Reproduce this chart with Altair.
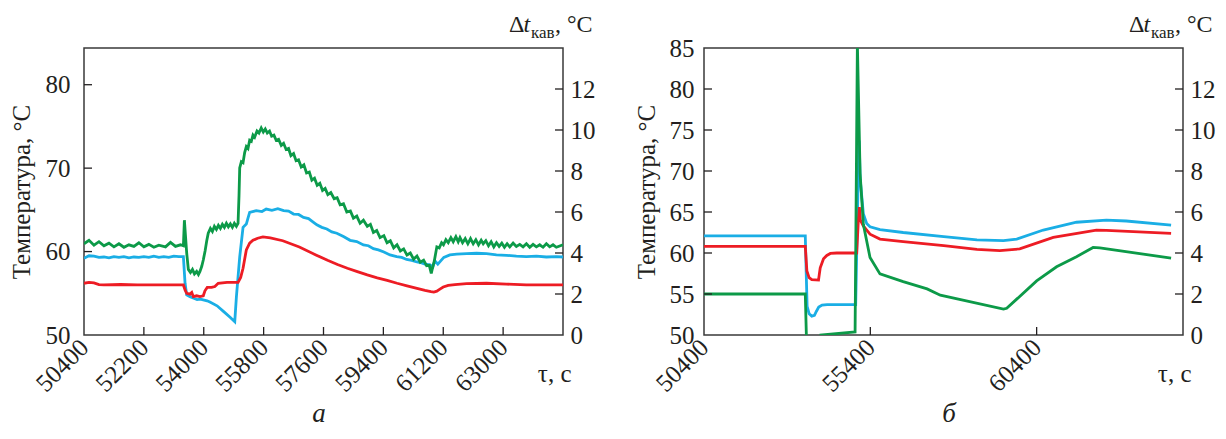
import altair as alt
import pandas as pd

FONT = "Liberation Serif"
INK = "#231f20"
BLUE = "#1aaee5"
RED = "#ed1c24"
GREEN = "#0c9a48"
W, H = 479, 287
X_DOMAIN = [50400, 64800]
LW = 2.8
FS = 25

# ---------------- panel а ----------------
a_blue_t = [50400, 50550, 50700, 50850, 51000, 51150, 51300, 51450, 51600, 51750, 51900, 52050,
            52200, 52350, 52500, 52650, 52800, 52950, 53100, 53250, 53388, 53438, 53487, 53587,
            53700, 53800, 53900, 53986, 54100, 54185, 54400, 54600, 54800, 54932, 54982, 55081,
            55181, 55280, 55330, 55380, 55579, 55750, 55878, 56050, 56227, 56400, 56550, 56700,
            56850, 57000, 57150, 57300, 57400, 57550, 57700, 57850, 58000, 58200, 58400, 58600,
            58800, 58950, 59100, 59250, 59415, 59600, 59800, 59950, 60100, 60250, 60410, 60550,
            60650, 60800, 60888, 60948, 61037, 61217, 61400, 61605, 61900, 62203, 62500, 62800,
            63100, 63400, 63697, 64000, 64300, 64600, 64800]
a_blue_v = [59.2, 59.5, 59.45, 59.3, 59.35, 59.25, 59.4, 59.3, 59.4, 59.25, 59.35, 59.3,
            59.4, 59.3, 59.45, 59.3, 59.4, 59.3, 59.45, 59.4, 59.4, 56.2, 54.8, 54.6,
            54.4, 54.25, 54.3, 54.2, 54.1, 53.95, 53.5, 52.8, 52.1, 51.6, 54.6, 59.35,
            62.9, 63.3, 64.0, 64.7, 64.9, 64.8, 65.1, 64.95, 65.15, 64.9, 64.85, 64.5,
            64.45, 64.1, 63.95, 63.5, 63.2, 62.9, 62.7, 62.35, 62.2, 61.8, 61.35, 61.2,
            60.8, 60.7, 60.35, 60.2, 59.95, 59.6, 59.4, 59.3, 59.05, 58.95, 58.75, 58.65,
            58.5, 58.4, 58.15, 58.9, 58.5, 59.3, 59.6, 59.7, 59.75, 59.8, 59.75, 59.6,
            59.55, 59.45, 59.4, 59.45, 59.35, 59.4, 59.35]

a_red_t = [50400, 50550, 50700, 50850, 51000, 51500, 52000, 52500, 53000, 53388, 53438, 53487,
           53587, 53640, 53687, 53786, 53886, 53986, 54036, 54105, 54235, 54334, 54434, 54700,
           55031, 55110, 55181, 55280, 55380, 55480, 55620, 55778, 56000, 56376, 56874, 57371,
           57721, 58020, 58318, 58617, 58916, 59215, 59513, 59812, 60111, 60410, 60650, 60830,
           60918, 61007, 61100, 61200, 61350, 61550, 61900, 62500, 63099, 63697, 64800]
a_red_v = [56.2, 56.3, 56.25, 56.05, 56.0, 56.05, 56.0, 56.0, 56.0, 56.0, 55.4, 55.0,
           54.9, 55.1, 54.6, 54.7, 54.6, 54.7, 55.3, 55.7, 55.7, 55.8, 56.2, 56.3,
           56.3, 56.9, 58.0, 60.2, 61.0, 61.35, 61.6, 61.75, 61.65, 61.3, 60.55, 59.6,
           58.95, 58.45, 58.0, 57.6, 57.2, 56.85, 56.55, 56.2, 55.9, 55.6, 55.35, 55.2,
           55.15, 55.25, 55.5, 55.75, 55.95, 56.05, 56.15, 56.2, 56.1, 56.0, 56.0]

# Δt_кав (right axis)
a_green_t = [50400, 50550, 50700, 50850, 51000, 51150, 51300, 51450, 51600, 51750, 51900, 52050,
             52200, 52350, 52500, 52650, 52850, 53000, 53150, 53300, 53388, 53418, 53487, 53537,
             53600, 53660, 53720, 53786, 53840, 53886, 53940, 53986, 54040, 54090, 54135, 54200,
             54260, 54320, 54380, 54440, 54500, 54560, 54620, 54680, 54740, 54800, 54860, 54920,
             54980, 55031, 55060, 55081, 55130, 55181, 55230, 55280, 55330, 55380, 55430, 55480,
             55530, 55600, 55660, 55728, 55790, 55850, 55910, 55978, 56040, 56110, 56177, 56250,
             56330, 56400, 56476, 56550, 56620, 56700, 56775, 56850, 56930, 57010, 57090, 57174,
             57250, 57330, 57410, 57490, 57571, 57650, 57730, 57820, 57921, 58010, 58100, 58200,
             58300, 58408, 58500, 58600, 58700, 58800, 58916, 59010, 59100, 59200, 59300, 59415,
             59510, 59610, 59710, 59810, 59911, 60010, 60110, 60210, 60310, 60410, 60510, 60610,
             60700, 60780, 60840, 60880, 60930, 61007, 61080, 61150, 61207, 61280, 61350, 61430,
             61500, 61580, 61650, 61703, 61780, 61860, 61940, 62020, 62100, 62180, 62260, 62340,
             62402, 62480, 62560, 62640, 62720, 62800, 62880, 62960, 63040, 63120, 63200, 63300,
             63398, 63500, 63600, 63700, 63800, 63900, 64000, 64100, 64200, 64300, 64400, 64500,
             64600, 64800]
a_green_v = [4.45, 4.62, 4.38, 4.55, 4.35, 4.48, 4.30, 4.45, 4.28, 4.40, 4.32, 4.50,
             4.30, 4.42, 4.28, 4.38, 4.30, 4.52, 4.32, 4.40, 4.35, 5.60, 4.00, 3.20,
             3.05, 3.20, 2.98, 3.10, 2.95, 3.10, 3.35, 3.66, 4.10, 4.60, 4.97, 5.20,
             5.05, 5.30, 5.15, 5.35, 5.20, 5.40, 5.25, 5.45, 5.28, 5.42, 5.25, 5.45,
             5.30, 5.45, 6.80, 8.15, 8.45, 8.40, 8.90, 9.19, 9.10, 9.50, 9.45, 9.75,
             9.65, 9.95, 9.85, 10.10, 9.90, 10.05, 9.85, 9.95, 9.70, 9.75, 9.50, 9.55,
             9.25, 9.35, 9.05, 9.10, 8.75, 8.85, 8.50, 8.55, 8.20, 8.30, 7.90, 7.95,
             7.55, 7.65, 7.30, 7.40, 7.05, 7.15, 6.85, 6.95, 6.65, 6.70, 6.35, 6.40,
             6.00, 6.05, 5.70, 5.80, 5.45, 5.60, 5.30, 5.40, 5.00, 5.10, 4.75, 4.85,
             4.50, 4.60, 4.25, 4.40, 4.10, 4.20, 3.90, 4.00, 3.70, 3.85, 3.55, 3.65,
             3.38, 3.40, 3.00, 3.30, 3.60, 4.30, 4.25, 4.50, 4.40, 4.65, 4.50, 4.75,
             4.55, 4.80, 4.55, 4.75, 4.50, 4.70, 4.45, 4.70, 4.45, 4.65, 4.40, 4.62,
             4.45, 4.60, 4.35, 4.55, 4.30, 4.50, 4.32, 4.48, 4.28, 4.45, 4.30, 4.48,
             4.32, 4.42, 4.30, 4.45, 4.28, 4.42, 4.30, 4.40, 4.28, 4.45, 4.30, 4.40,
             4.28, 4.40]

a_x_labels = [50400, 52200, 54000, 55800, 57600, 59400, 61200, 63000]
a_y_labels = [50, 60, 70, 80]
a_y_domain = [50, 84.4]

# ---------------- panel б ----------------
b_blue_t = [50400, 53445, 53470, 53500, 53560, 53640, 53720, 53780, 53850, 53950, 54100, 54960,
            55000, 55040, 55065, 55095, 55190, 55290, 55391, 55690, 56388, 57607, 58604, 59403,
            59801, 60600, 61598, 62496, 63095, 64442]
b_blue_v = [62.1, 62.1, 58.0, 53.5, 52.6, 52.3, 52.4, 52.9, 53.4, 53.65, 53.7, 53.7,
            62.0, 70.0, 73.7, 69.0, 64.8, 63.6, 63.2, 62.85, 62.5, 62.0, 61.6, 61.5,
            61.7, 62.8, 63.75, 64.0, 63.9, 63.4]

b_red_t = [50400, 53445, 53493, 53560, 53640, 53843, 53863, 53894, 53993, 54092, 54200, 54391,
           54990, 55040, 55071, 55100, 55190, 55391, 55690, 56388, 57607, 58604, 59293, 59891,
           60900, 62197, 62496, 64442]
b_red_v = [60.8, 60.8, 57.8, 57.0, 56.75, 56.7, 57.3, 58.2, 59.3, 59.7, 59.95, 60.0,
           60.0, 64.0, 65.6, 64.0, 63.3, 62.3, 61.7, 61.4, 60.9, 60.45, 60.3, 60.5,
           61.9, 62.8, 62.75, 62.4]

b_green_t = [50400, 53445, 53493, 53880, 53912, 54942, 55011, 55092, 55190, 55391, 55690, 56388,
             57107, 57505, 59403, 59500, 59801, 60400, 61000, 61598, 62098, 62300, 64442]
b_green_v = [2.0, 2.0, -1.0, -1.0, 0.0, 0.15, 14.2, 7.9, 5.4, 3.78, 2.98, 2.6,
             2.25, 1.94, 1.26, 1.3, 1.75, 2.64, 3.33, 3.82, 4.27, 4.25, 3.75]

b_x_labels = [50400, 55400, 60400]
b_y_labels = [50, 55, 60, 65, 70, 75, 80, 85]
b_y_domain = [50, 85]

r_labels = [0, 2, 4, 6, 8, 10, 12]
r_domain = [0, 14]

FONT_KW = dict(labelFont=FONT, titleFont=FONT, labelFontSize=FS, titleFontSize=FS,
               labelColor=INK, titleColor=INK, titleFontWeight="normal",
               domain=False, ticks=False, grid=False, labelFlush=False, labelOverlap=False)


def text_mark(s, x, y, size=FS, style="normal", align="left"):
    return alt.Chart(pd.DataFrame({"s": [s]})).mark_text(
        font=FONT, fontSize=size, fontStyle=style, align=align,
        baseline="alphabetic", color=INK
    ).encode(text="s:N", x=alt.value(x), y=alt.value(y))


def make_panel(blue_t, blue_v, red_t, red_v, green_t, green_v,
               x_labels, y_labels, y_domain, y_lab_pad, y_title_pad, panel_label, label_x):
    temp = pd.concat([
        pd.DataFrame({"t": blue_t, "v": blue_v, "s": "blue", "k": 0}),
        pd.DataFrame({"t": red_t, "v": red_v, "s": "red", "k": 1}),
    ], ignore_index=True)
    green = pd.DataFrame({"t": green_t, "r": green_v})

    xscale = alt.Scale(domain=X_DOMAIN, nice=False, zero=False)
    yscale = alt.Scale(domain=y_domain, nice=False, zero=False)
    rscale = alt.Scale(domain=r_domain, nice=False, zero=False)

    xaxis = alt.Axis(values=x_labels, format="d", labelAngle=315, labelAlign="right",
                     labelBaseline="middle", labelPadding=8,
                     title="τ, с", titleAnchor="end",
                     titleAlign="right", titleBaseline="alphabetic",
                     titleX=W + 8, titleY=46, **FONT_KW)
    yaxis = alt.Axis(values=y_labels, orient="left", labelPadding=y_lab_pad,
                     title="Температура, °C", titlePadding=y_title_pad, **FONT_KW)
    raxis = alt.Axis(values=r_labels, orient="right", labelPadding=7,
                     title=None, **FONT_KW)

    lines = alt.Chart(temp).mark_line(strokeWidth=LW, clip=True).encode(
        x=alt.X("t:Q", scale=xscale, axis=xaxis),
        y=alt.Y("v:Q", scale=yscale, axis=yaxis),
        color=alt.Color("s:N", scale=alt.Scale(domain=["blue", "red"], range=[BLUE, RED]),
                        legend=None),
        detail="k:N",
    )
    gline = alt.Chart(green).mark_line(strokeWidth=LW, clip=True, color=GREEN).encode(
        x=alt.X("t:Q"),
        y=alt.Y("r:Q", scale=rscale, axis=raxis),
    )
    inner_y = [v for v in y_labels if y_domain[0] < v < y_domain[1]]
    lt = alt.Chart(pd.DataFrame({"v": inner_y})).mark_rule(color=INK, strokeWidth=1.3).encode(
        y=alt.Y("v:Q", scale=yscale, axis=None), x=alt.value(0), x2=alt.value(8))
    rt = alt.Chart(pd.DataFrame({"v": r_labels[1:]})).mark_rule(color=INK, strokeWidth=1.3).encode(
        y=alt.Y("v:Q", scale=rscale, axis=None), x=alt.value(W - 8), x2=alt.value(W))
    bt = alt.Chart(pd.DataFrame({"t": x_labels[1:]})).mark_rule(color=INK, strokeWidth=1.3).encode(
        x=alt.X("t:Q"), y=alt.value(H - 8), y2=alt.value(H))

    title_parts = [
        text_mark("Δ", W - 54, -16, size=24),
        text_mark("t", W - 39.5, -16, size=24, style="italic"),
        text_mark("кав", W - 32, -10, size=17),
        text_mark(", °C", W - 8, -16, size=24),
    ]
    plabel = text_mark(panel_label, label_x, H + 87, size=27, style="italic", align="center")

    return alt.layer(lines, gline, lt, rt, bt, *title_parts, plabel).resolve_scale(
        y="independent").properties(width=W, height=H)


panel_a = make_panel(a_blue_t, a_blue_v, a_red_t, a_red_v, a_green_t, a_green_v,
                     a_x_labels, a_y_labels, a_y_domain, 14, 11, "а", 235)
panel_b = make_panel(b_blue_t, b_blue_v, b_red_t, b_red_v, b_green_t, b_green_v,
                     b_x_labels, b_y_labels, b_y_domain, 10, 10, "б", 245)

chart = alt.hconcat(panel_a, panel_b, spacing=37).properties(
    padding={"left": 0, "top": 4, "right": 0, "bottom": 0},
    background="white",
).configure_view(
    stroke="#3a3a3a", strokeWidth=1.5
).configure_axis(
    labelFont=FONT, titleFont=FONT, labelFontSize=FS, titleFontSize=FS,
    labelColor=INK, titleColor=INK, titleFontWeight="normal"
).configure_text(font=FONT)

chart.save("out.html", embed_options={"renderer": "svg", "actions": False})
